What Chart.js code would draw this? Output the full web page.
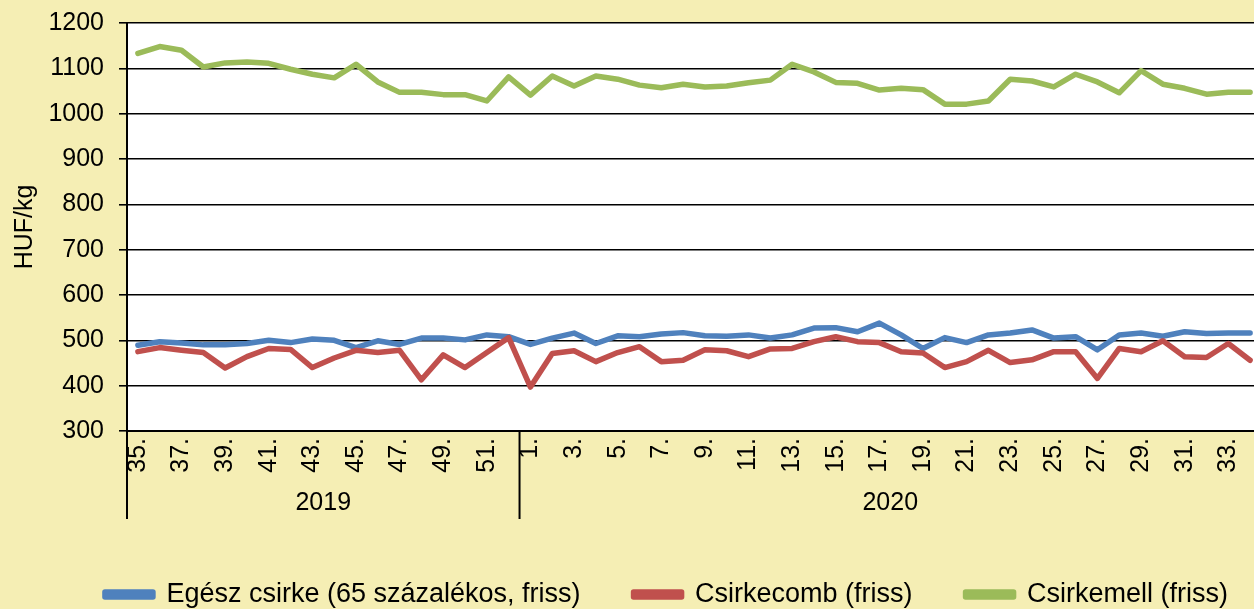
<!DOCTYPE html>
<html><head><meta charset="utf-8">
<script src="https://cdn.jsdelivr.net/npm/chart.js@4/dist/chart.umd.min.js"></script>
<style>
html,body{margin:0;padding:0;background:#F5EEB4;overflow:hidden;width:1254px;height:609px;}
#wrap{position:absolute;left:0;top:0;width:1261px;height:609px;}
</style></head><body>
<div id="wrap"><canvas id="c"></canvas></div>
<script>
const weeks2019 = ['35.','36.','37.','38.','39.','40.','41.','42.','43.','44.','45.','46.','47.','48.','49.','50.','51.','52.'];
const weeks2020 = ['1.','2.','3.','4.','5.','6.','7.','8.','9.','10.','11.','12.','13.','14.','15.','16.','17.','18.','19.','20.','21.','22.','23.','24.','25.','26.','27.','28.','29.','30.','31.','32.','33.','34.'];
const years = ['2019','2020'];
const seriesNames = ['Egész csirke (65 százalékos, friss)','Csirkecomb (friss)','Csirkemell (friss)'];
const egeszCsirke = [489,497,494,490,490,493,500,495,503,500,484,499,491,505,505,501,512,508,
  491,505,516,493,510,508,514,517,510,509,512,505,512,527,528,519,538,512,482,506,495,512,516,523,505,508,479,512,516,509,519,515,516,516];
const csirkecomb = [475,484,478,473,439,464,482,480,440,461,478,473,478,413,468,440,473,506,
  397,471,477,453,473,486,453,456,479,477,464,481,482,497,508,497,495,475,472,440,453,478,451,457,475,475,416,482,475,499,464,462,493,456];
const csirkemell = [1133,1148,1140,1103,1112,1114,1111,1098,1087,1079,1109,1070,1047,1047,1042,1042,1028,1081,
  1041,1083,1061,1083,1076,1063,1057,1065,1059,1061,1068,1074,1109,1092,1069,1067,1052,1056,1053,1021,1021,1028,1076,1072,1059,1087,1070,1046,1095,1065,1056,1043,1047,1047];
const yTicks = {min:300, max:1200, step:100};
const yTitle = 'HUF/kg';

const labels = weeks2019.concat(weeks2020);
const FONT = '"Liberation Sans", Arial, sans-serif';
Chart.defaults.font.family = FONT;
Chart.defaults.color = '#000';

const decor = {
  id: 'decor',
  beforeDraw(chart) {
    const {ctx, chartArea:a} = chart;
    ctx.save(); ctx.fillStyle = '#fff';
    ctx.fillRect(a.left, a.top, a.right - a.left, a.bottom - a.top);
    ctx.restore();
  },
  afterLayout(chart) {
    const lg = chart.legend;
    if (lg) { lg.left += 36; lg.right += 36; lg.top += 9; lg.bottom += 9; }
  },
  afterDraw(chart) {
    const {ctx, chartArea:a} = chart;
    const x = chart.scales.x;
    const n1 = weeks2019.length;
    const b0 = a.left;
    const b1 = (x.getPixelForValue(n1 - 1) + x.getPixelForValue(n1)) / 2;
    const b2 = a.right;
    ctx.save();
    ctx.strokeStyle = '#000'; ctx.lineWidth = 2;
    [b0, b1].forEach(px => { ctx.beginPath(); ctx.moveTo(px, a.bottom); ctx.lineTo(px, a.bottom + 88); ctx.stroke(); });
    ctx.font = '25px ' + FONT; ctx.fillStyle = '#000';
    ctx.textAlign = 'center'; ctx.textBaseline = 'middle';
    ctx.fillText(years[0], (b0 + b1) / 2, a.bottom + 72);
    ctx.fillText(years[1], (b1 + b2) / 2, a.bottom + 72);
    ctx.restore();
  }
};

new Chart(document.getElementById('c'), {
  type: 'line',
  data: {
    labels: labels,
    datasets: [
      {label: seriesNames[0], data: egeszCsirke, borderColor: '#4F81BD', backgroundColor: '#4F81BD', order: 3},
      {label: seriesNames[1], data: csirkecomb, borderColor: '#C0504D', backgroundColor: '#C0504D', order: 2},
      {label: seriesNames[2], data: csirkemell, borderColor: '#9BBB59', backgroundColor: '#9BBB59', order: 1}
    ]
  },
  options: {
    responsive: true, maintainAspectRatio: false, animation: false,
    layout: {padding: {top: 23, left: 0, right: 0, bottom: 0}},
    elements: {
      point: {radius: 0, hoverRadius: 0},
      line: {borderWidth: 5.5, tension: 0, borderJoinStyle: 'round', borderCapStyle: 'round', fill: false}
    },
    plugins: {
      tooltip: {enabled: false},
      legend: {
        position: 'bottom',
        labels: {
          font: {size: 27}, color: '#000', boxWidth: 48, boxHeight: 5, padding: 53,
          sort: (a, b) => a.datasetIndex - b.datasetIndex
        }
      }
    },
    scales: {
      x: {
        type: 'category', offset: true,
        grid: {display: false, drawTicks: false},
        border: {display: true, color: '#000', width: 2},
        ticks: {
          autoSkip: false, maxRotation: 90, minRotation: 90, padding: 7,
          font: {size: 25}, color: '#000',
          callback: function(v, i) { return i % 2 === 0 ? labels[i] : ''; }
        },
        afterFit(s) { s.height = 88; s.paddingLeft = 0; s.paddingRight = 0; }
      },
      y: {
        min: yTicks.min, max: yTicks.max,
        grid: {color: '#000', lineWidth: 1.6, drawTicks: true, tickLength: 8},
        border: {display: true, color: '#000', width: 2},
        ticks: {stepSize: yTicks.step, padding: 15, font: {size: 25}, color: '#000',
          callback: v => String(v)},
        title: {display: true, text: yTitle, font: {size: 25}, color: '#000', padding: {top: 10, bottom: 0}},
        afterFit(s) { s.width = 127; s.paddingTop = 0; s.paddingBottom = 0; }
      }
    }
  },
  plugins: [decor]
});
</script>
</body></html>
